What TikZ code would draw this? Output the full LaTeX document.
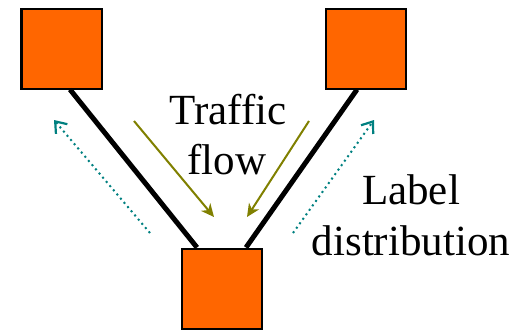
\documentclass[tikz,border=0pt]{standalone}
\usepackage{fontspec}
\setmainfont{Liberation Serif}
\usetikzlibrary{arrows.meta,calc}
\definecolor{boxorange}{HTML}{FF6600}
\definecolor{traffic}{HTML}{808000}
\definecolor{labeldist}{HTML}{008080}
\tikzset{
  router/.style={draw=black, line width=2bp, fill=boxorange, minimum size=80bp, inner sep=0pt},
  link/.style={line width=5bp, black},
  flowarrow/.style={traffic, line width=2bp, -{Stealth[length=13bp,width=12bp,inset=4bp]}},
  ldparrow/.style={labeldist, line width=2bp, dash pattern=on 2bp off 3.5bp, -{Straight Barb[length=10bp,width=15bp,line width=2.2bp]}},
  caption/.style={font=\fontsize{43bp}{51bp}\selectfont, inner sep=0pt, anchor=base}
}
\begin{document}
\begin{tikzpicture}[x=1bp,y=-1bp]
  \useasboundingbox (0,0) rectangle (517,329);
  % three routers
  \node[router] (tl) at (61.5,48.5) {};
  \node[router] (tr) at (366,48.5) {};
  \node[router] (bt) at (222,288.5) {};
  % links
  \draw[link] ($(tl.south)+(8.5,0)$) -- ($(bt.north)+(-25,0)$);
  \draw[link] ($(tr.south)+(-9,0)$) -- ($(bt.north)+(24,0)$);
  % traffic flow arrows
  \coordinate (f1s) at (134,121);
  \coordinate (f1e) at (214,217);
  \coordinate (f2s) at (309,121);
  \coordinate (f2e) at (247,217);
  \draw[flowarrow] (f1s) -- (f1e);
  \draw[flowarrow] (f2s) -- (f2e);
  % label distribution arrows
  \coordinate (l1s) at (150,233);
  \coordinate (l1e) at (54,120);
  \coordinate (l2s) at (293,233);
  \coordinate (l2e) at (374,120);
  \draw[ldparrow] (l1s) -- (l1e);
  \draw[ldparrow] (l2s) -- (l2e);
  % captions
  \node[caption] (t1) at (228,124) {Traffic};
  \node[caption] (t2) at (227,174) {flow};
  \node[caption] (t3) at (411,204) {Label};
  \node[caption] (t4) at (411,255) {distribution};
\end{tikzpicture}
\end{document}
